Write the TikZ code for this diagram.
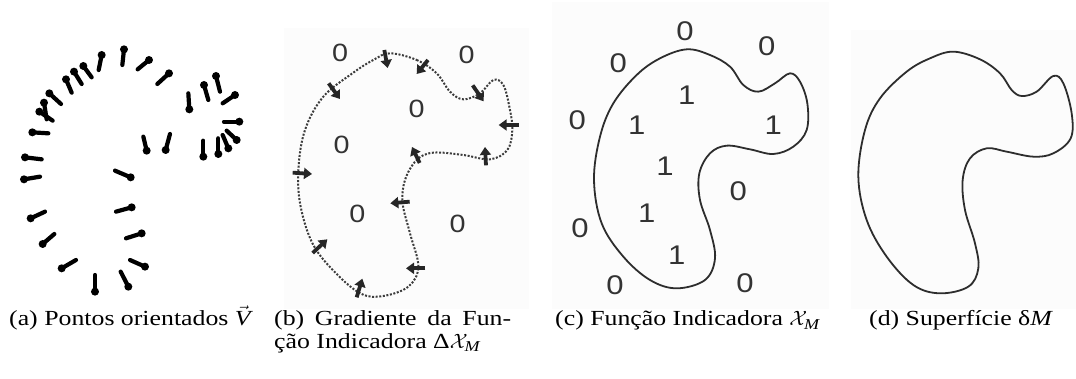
\documentclass[tikz,border=0pt]{standalone}
\usepackage{amsmath}
\usepackage{fontspec}
\setmainfont{Liberation Serif}[FakeStretch=1.2]
\newfontfamily\digitfont{Liberation Sans}[FakeStretch=1.15]
\usetikzlibrary{arrows.meta}
\definecolor{panelbg}{RGB}{252,252,252}
\definecolor{outline}{RGB}{45,45,45}
\definecolor{dotline}{RGB}{60,60,60}

\tikzset{
  panel/.style={fill=panelbg, draw=none},
  pinstick/.style={line width=4.2pt, line cap=round, black},
  surface/.style={draw=outline, line width=1.8pt},
  gradcurve/.style={draw=dotline, line width=2pt, dash pattern=on 2pt off 1.6pt},
  gradarrow/.style={line width=3.8pt, black!85, -{Triangle[length=8pt,width=11pt]}},
  caption/.style={anchor=base west, inner sep=0pt, font=\fontsize{21.5}{22}\selectfont},
  valb/.style={font=\digitfont\fontsize{25}{25}\selectfont, text=black!80},
  valc/.style={font=\digitfont\fontsize{27}{27}\selectfont, text=black!80}
}

% oriented point: filled base at #1, stick towards #2
\newcommand{\orientedpt}[2]{%
  \draw[pinstick] (#1) -- (#2);
  \fill[black] (#1) circle (12);
}

\begin{document}
\begin{tikzpicture}[x=1pt,y=-1pt]
\useasboundingbox (0,0) rectangle (1076,379);
\fill[white] (0,0) rectangle (1076,379);

% panel backgrounds
\fill[panel] (284,28) rectangle (529,309);
\fill[panel] (552,2) rectangle (829,309);
\fill[panel] (851,30) rectangle (1076,309);

% (a) oriented points
\begin{scope}[shift={(0,40)}, scale=1/3]
  \orientedpt{305,45}{296,90}
  \orientedpt{372,28}{367,75}
  \orientedpt{447,60}{413,88}
  \orientedpt{507,100}{472,132}
  \orientedpt{250,78}{275,112}
  \orientedpt{222,95}{245,132}
  \orientedpt{198,118}{215,158}
  \orientedpt{148,160}{183,192}
  \orientedpt{118,215}{158,242}
  \orientedpt{132,188}{140,238}
  \orientedpt{97,277}{145,280}
  \orientedpt{75,352}{125,358}
  \orientedpt{72,418}{120,410}
  \orientedpt{92,535}{135,515}
  \orientedpt{128,612}{163,582}
  \orientedpt{185,685}{228,660}
  \orientedpt{285,755}{285,705}
  \orientedpt{385,740}{362,695}
  \orientedpt{435,680}{390,660}
  \orientedpt{425,580}{378,595}
  \orientedpt{395,502}{348,515}
  \orientedpt{392,412}{345,392}
  \orientedpt{440,332}{430,290}
  \orientedpt{497,330}{510,282}
  \orientedpt{568,208}{565,160}
  \orientedpt{612,135}{625,180}
  \orientedpt{648,108}{660,155}
  \orientedpt{705,165}{668,190}
  \orientedpt{718,245}{672,245}
  \orientedpt{610,350}{610,302}
  \orientedpt{655,342}{655,295}
  \orientedpt{685,325}{668,285}
  \orientedpt{710,300}{680,272}
\end{scope}

% (b) gradient of the indicator function
\begin{scope}[shift={(270,20)}, scale=1/3]
  \draw[gradcurve] plot[smooth cycle, tension=0.6] coordinates {
    (360,100) (440,120) (500,160) (540,215) (580,238) (630,220) (670,180)
    (700,195) (718,260) (727,330) (712,390) (660,418) (580,405) (490,398)
    (440,420) (405,480) (398,550) (420,640) (445,740) (415,800) (340,828)
    (275,822) (200,762) (130,675) (92,560) (85,450) (105,330) (160,230)
    (250,158) (310,120)};
  \coordinate (g1t) at (343,90);  \coordinate (g1h) at (353,144);
  \coordinate (g2t) at (474,120); \coordinate (g2h) at (440,162);
  \coordinate (g3t) at (176,190); \coordinate (g3h) at (210,237);
  \coordinate (g4t) at (608,196); \coordinate (g4h) at (641,244);
  \coordinate (g5t) at (746,315); \coordinate (g5h) at (686,315);
  \coordinate (g6t) at (648,436); \coordinate (g6h) at (645,381);
  \coordinate (g7t) at (449,429); \coordinate (g7h) at (426,381);
  \coordinate (g8t) at (419,545); \coordinate (g8h) at (361,550);
  \coordinate (g9t) at (68,458);  \coordinate (g9h) at (126,462);
  \coordinate (g10t) at (128,699); \coordinate (g10h) at (172,658);
  \coordinate (g11t) at (466,745); \coordinate (g11h) at (408,745);
  \coordinate (g12t) at (260,832); \coordinate (g12h) at (277,776);
  \foreach \i in {1,...,12} \draw[gradarrow] (g\i t) -- (g\i h);
  \node[valb] (b1) at (210,100) {0};
  \node[valb] (b2) at (590,105) {0};
  \node[valb] (b3) at (440,268) {0};
  \node[valb] (b4) at (215,375) {0};
  \node[valb] (b5) at (262,582) {0};
  \node[valb] (b6) at (563,612) {0};
\end{scope}

% (c) indicator function
\begin{scope}[shift={(540,0)}, scale=1/3]
  \draw[surface] plot[smooth cycle, tension=0.6] coordinates {
    (440,148) (510,165) (570,200) (610,255) (655,275) (705,250) (750,220)
    (780,245) (802,310) (800,390) (760,440) (700,462) (630,448) (560,437)
    (510,460) (478,520) (480,600) (510,690) (525,775) (495,840) (410,865)
    (330,840) (250,770) (185,670) (162,540) (180,410) (220,310) (290,225)
    (360,175)};
  \node[valc] (c1) at (435,95) {0};
  \node[valc] (c2) at (680,140) {0};
  \node[valc] (c3) at (235,190) {0};
  \node[valc] (c4) at (112,360) {0};
  \node[valc] (c5) at (440,285) {1};
  \node[valc] (c6) at (290,375) {1};
  \node[valc] (c7) at (700,375) {1};
  \node[valc] (c8) at (375,500) {1};
  \node[valc] (c9) at (595,575) {0};
  \node[valc] (c10) at (320,640) {1};
  \node[valc] (c11) at (120,685) {0};
  \node[valc] (c12) at (410,765) {1};
  \node[valc] (c13) at (225,855) {0};
  \node[valc] (c14) at (615,850) {0};
\end{scope}

% (d) surface
\begin{scope}[shift={(820,20)}, scale=1/3]
  \draw[surface] plot[smooth cycle, tension=0.6] coordinates {
    (400,95) (480,118) (540,160) (575,210) (605,228) (650,215) (700,168)
    (730,190) (755,280) (752,355) (700,400) (640,410) (560,395) (500,385)
    (450,415) (428,480) (435,570) (465,670) (475,745) (445,800) (360,820)
    (280,795) (200,710) (140,600) (115,470) (135,330) (180,235) (260,155)
    (330,115)};
\end{scope}

% captions (a two-line node sits on the baseline of its last line)
\node[caption] (capa) at (9,326) {(a) Pontos orientados $\vec{\hbox{\itshape V}}$};
\node[caption, align=left] (capb) at (274,348)
  {\makebox[237pt][s]{(b) Gradiente da Fun-}\\ção Indicadora Δ$\mathcal{X}_{\text{\itshape M}}$};
\node[caption] (capc) at (555,326) {(c) Função Indicadora $\mathcal{X}_{\text{\itshape M}}$};
\node[caption] (capd) at (869,326) {(d) Superfície δ{\itshape M}};
\end{tikzpicture}
\end{document}
